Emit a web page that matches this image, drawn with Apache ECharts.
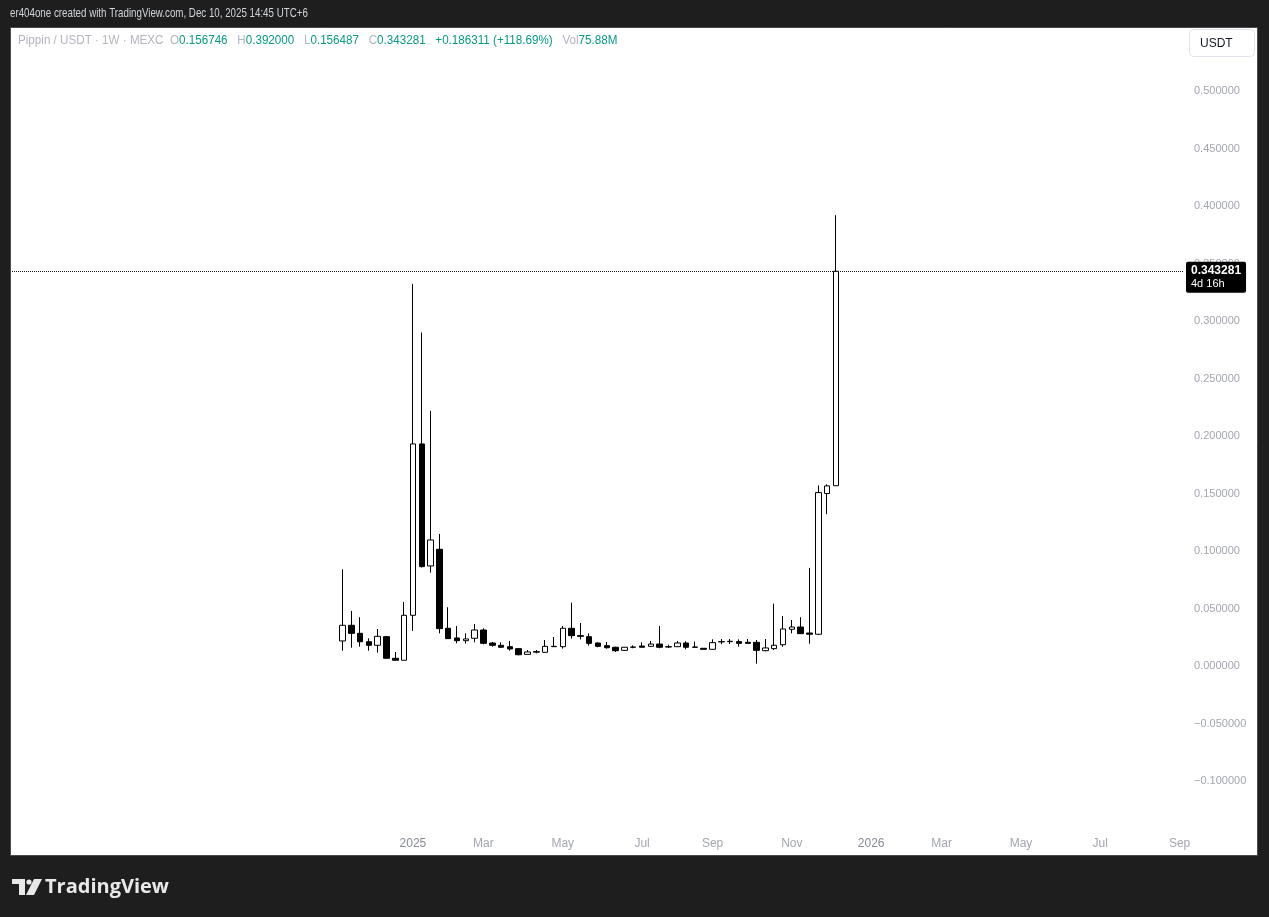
<!DOCTYPE html>
<html>
<head>
<meta charset="utf-8">
<script src="https://cdn.jsdelivr.net/npm/echarts@6/dist/echarts.min.js"></script>
<style>
  html, body { margin: 0; padding: 0; background: #1e1e1e; }
  #main { width: 1269px; height: 917px; }
</style>
</head>
<body>
<div id="main"></div>
<script>
// weekly axis, Mondays
const axisStart = '2024-02-26';
const axisWeeks = 133;
const firstCandle = '2024-11-11';

// OHLC per week (Pippin / USDT, MEXC, 1W)
const opens  = [0.0218, 0.0354, 0.0284, 0.0211, 0.0180, 0.0255, 0.0067, 0.0050, 0.0441, 0.1931,
                0.0870, 0.1015, 0.0328, 0.0244, 0.0220, 0.0241, 0.0313, 0.0200, 0.0180, 0.0168,
                0.0151, 0.0101, 0.0120, 0.0119, 0.0168, 0.0168, 0.0328, 0.0264, 0.0255, 0.0200,
                0.0177, 0.0163, 0.0136, 0.0163, 0.0174, 0.0171, 0.0191, 0.0165, 0.0168, 0.0200,
                0.0165, 0.0154, 0.0145, 0.0210, 0.0212, 0.0212, 0.0206, 0.0206, 0.0133, 0.0151,
                0.0185, 0.0319, 0.0339, 0.0287, 0.0276, 0.1500, 0.156746];
const closes = [0.0354, 0.0284, 0.0211, 0.0180, 0.0258, 0.0067, 0.0050, 0.0441, 0.1931, 0.0864,
                0.1096, 0.0325, 0.0238, 0.0220, 0.0235, 0.0313, 0.0197, 0.0180, 0.0163, 0.0148,
                0.0098, 0.0122, 0.0125, 0.0171, 0.0171, 0.0328, 0.0264, 0.0258, 0.0197, 0.0171,
                0.0159, 0.0133, 0.0163, 0.0165, 0.0163, 0.0191, 0.0163, 0.0168, 0.0200, 0.0163,
                0.0163, 0.0145, 0.0203, 0.0212, 0.0215, 0.0197, 0.0197, 0.0136, 0.0157, 0.0180,
                0.0322, 0.0339, 0.0281, 0.0276, 0.1508, 0.1566, 0.343281];
const lows   = [0.0133, 0.0159, 0.0168, 0.0133, 0.0116, 0.0061, 0.0050, 0.0050, 0.0305, 0.0857,
                0.0812, 0.0284, 0.0235, 0.0197, 0.0194, 0.0206, 0.0189, 0.0168, 0.0159, 0.0133,
                0.0093, 0.0101, 0.0110, 0.0119, 0.0165, 0.0151, 0.0238, 0.0232, 0.0177, 0.0163,
                0.0151, 0.0122, 0.0133, 0.0154, 0.0160, 0.0168, 0.0154, 0.0157, 0.0165, 0.0145,
                0.0160, 0.0145, 0.0142, 0.0189, 0.0191, 0.0168, 0.0194, 0.0020, 0.0128, 0.0139,
                0.0168, 0.0284, 0.0278, 0.0194, 0.0270, 0.1320, 0.156487];
const highs  = [0.0841, 0.0479, 0.0424, 0.0241, 0.0322, 0.0261, 0.0122, 0.0557, 0.3323, 0.2900,
                0.2219, 0.1148, 0.0511, 0.0348, 0.0284, 0.0365, 0.0328, 0.0209, 0.0206, 0.0218,
                0.0154, 0.0139, 0.0139, 0.0226, 0.0252, 0.0348, 0.0551, 0.0374, 0.0284, 0.0206,
                0.0209, 0.0168, 0.0165, 0.0180, 0.0206, 0.0218, 0.0348, 0.0185, 0.0218, 0.0215,
                0.0212, 0.0154, 0.0232, 0.0235, 0.0235, 0.0232, 0.0235, 0.0226, 0.0235, 0.0542,
                0.0435, 0.0400, 0.0424, 0.0853, 0.1570, 0.1580, 0.392000];

const lastPrice = 0.343281;

// time scale labels (first Monday of the month)
const tickLabels = [
  ['2025-01-06', '2025'], ['2025-03-03', 'Mar'], ['2025-05-05', 'May'], ['2025-07-07', 'Jul'],
  ['2025-09-01', 'Sep'], ['2025-11-03', 'Nov'], ['2026-01-05', '2026'], ['2026-03-02', 'Mar'],
  ['2026-05-04', 'May'], ['2026-07-06', 'Jul'], ['2026-09-07', 'Sep']
];

const categories = [];
let t = Date.parse(axisStart + 'T00:00:00Z');
for (let i = 0; i < axisWeeks; i++) {
  categories.push(new Date(t).toISOString().slice(0, 10));
  t += 7 * 86400000;
}
const tickMap = {};
tickLabels.forEach(([d, l]) => { tickMap[d] = l; });

const offset = categories.indexOf(firstCandle);
const candleData = opens.map((o, i) => [offset + i, o, closes[i], lows[i], highs[i]]);

const FONT = '"Liberation Sans", Roboto, Arial, sans-serif';
const UP = '#089981';
const GRAY = '#a3a6af';

const chart = echarts.init(document.getElementById('main'));
chart.setOption({
  backgroundColor: '#1e1e1e',
  animation: false,
  textStyle: { fontFamily: FONT },
  grid: { left: 12, right: 85, top: 33.5, bottom: 78.5, containLabel: false },
  xAxis: {
    type: 'category',
    data: categories,
    boundaryGap: true,
    axisLine: { show: false },
    axisTick: { show: false },
    splitLine: { show: false },
    axisLabel: {
      interval: (idx, val) => tickMap[val] !== undefined,
      formatter: (val) => {
        const l = tickMap[val] || '';
        return /^\d{4}$/.test(l) ? '{y|' + l + '}' : l;
      },
      color: GRAY,
      fontSize: 12,
      fontFamily: FONT,
      margin: 5,
      verticalAlign: 'middle',
      hideOverlap: false,
      rich: { y: { color: '#878a94', fontSize: 12, fontFamily: FONT } }
    }
  },
  yAxis: {
    type: 'value',
    position: 'right',
    min: -0.15,
    max: 0.55,
    interval: 0.05,
    scale: false,
    axisLine: { show: false },
    axisTick: { show: false },
    splitLine: { show: false },
    axisLabel: {
      showMinLabel: false,
      showMaxLabel: false,
      margin: 10,
      color: GRAY,
      fontSize: 11,
      fontFamily: FONT,
      formatter: (v) => (v < -1e-9 ? '\u2212' : '') + Math.abs(v).toFixed(6)
    }
  },
  series: [{
    type: 'candlestick',
    data: candleData,
    encode: { x: 0, y: [1, 2, 3, 4] },
    barWidth: 6,
    itemStyle: {
      color: '#ffffff',
      color0: '#000000',
      borderColor: '#000000',
      borderColor0: '#000000',
      borderWidth: 1
    },
    markLine: {
      silent: true,
      precision: 6,
      symbol: ['none', 'none'],
      lineStyle: { color: '#131722', type: 'dotted', width: 1 },
      data: [{ yAxis: lastPrice }],
      label: {
        show: true,
        position: 'end',
        distance: 2,
        offset: [0, 6],
        formatter: '{p|' + lastPrice.toFixed(6) + '}\n{c|4d 16h}',
        backgroundColor: '#000000',
        borderRadius: 2,
        padding: [2, 5, 2, 5],
        rich: {
          p: { color: '#ffffff', fontSize: 12, fontWeight: 'bold', fontFamily: FONT, lineHeight: 14 },
          c: { color: '#ffffff', fontSize: 11, fontFamily: FONT, lineHeight: 13 }
        }
      }
    }
  }],
  graphic: [
    // white pane
    { type: 'rect', z: -10, shape: { x: 10.5, y: 27.5, width: 1247, height: 828 },
      style: { fill: '#ffffff', stroke: '#4a4a4a', lineWidth: 1 } },
    // snapshot header (condensed look)
    { type: 'text', x: 10, y: 7, scaleX: 0.75,
      style: { text: 'er404one created with TradingView.com, Dec 10, 2025 14:45 UTC+6',
               fill: '#d1d4dc', fontSize: 13, fontFamily: FONT, verticalAlign: 'top' } },
    // legend line
    { type: 'text', x: 18, y: 35, scaleX: 0.97,
      style: {
        verticalAlign: 'top',
        text: '{g|Pippin / USDT \u00b7 1W \u00b7 MEXC}{g|  O}{v|0.156746}{g|   H}{v|0.392000}{g|   L}{v|0.156487}{g|   C}{v|0.343281}{v|   +0.186311 (+118.69%)}{g|   Vol}{v|75.88M}',
        rich: {
          g: { fill: '#b2b5be', fontSize: 12, fontFamily: FONT },
          v: { fill: UP, fontSize: 12, fontFamily: FONT }
        }
      } },
    // currency button
    { type: 'rect', shape: { x: 1189.5, y: 29.5, width: 65, height: 27, r: 4 },
      style: { fill: '#ffffff', stroke: '#e0e3eb', lineWidth: 1 } },
    { type: 'text', left: 1200, top: 38,
      style: { text: 'USDT', fill: '#131722', fontSize: 12, fontFamily: FONT } },
    // TradingView logo
    { type: 'polygon', shape: { points: [[12, 879], [25, 879], [25, 895], [19, 895], [19, 884], [12, 884]] },
      style: { fill: '#e8e8e8' } },
    { type: 'circle', shape: { cx: 29, cy: 882, r: 2.6 }, style: { fill: '#e8e8e8' } },
    { type: 'polygon', shape: { points: [[34, 879], [42, 879], [34, 895], [26, 895]] },
      style: { fill: '#e8e8e8' } },
    { type: 'text', left: 45, top: 877,
      style: { text: 'TradingView', fill: '#e8e8e8', fontSize: 20, fontWeight: 'bold', fontFamily: '"Open Sans", Inter, Roboto, sans-serif' } }
  ]
});
</script>
</body>
</html>
